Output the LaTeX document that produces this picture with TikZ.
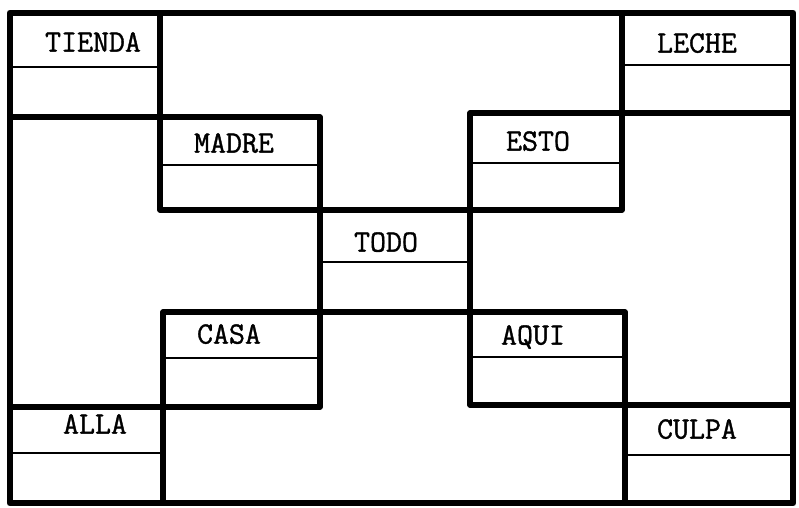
\documentclass[tikz,border=0pt]{standalone}
\usepackage{fontspec}
\newfontfamily\typewriter[FakeBold=1.2]{Latin Modern Mono}
\usepackage{tikz}
\usetikzlibrary{positioning}

\begin{document}
\begin{tikzpicture}[
    x=0.5pt,y=-0.5pt,
    frame/.style={line width=3.4pt,line join=round},
    wall/.style={line width=2.8pt,line join=round},
    divider/.style={line width=1.4pt},
    word/.style={font=\typewriter\fontsize{15.5}{16}\selectfont,inner sep=0pt,text height=1.3ex,text depth=0pt}
]
\useasboundingbox (0,0) rectangle (799,508);
% outer frame
\draw[frame] (10,13) rectangle (793,503);
% stepped walls
\draw[wall] (10,117) -- (320,117) -- (320,407) -- (10,407);
\draw[wall] (793,113) -- (470,113) -- (470,405) -- (793,405);
\draw[wall] (160,13) -- (160,210) -- (622,210) -- (622,13);
\draw[wall] (163,503) -- (163,312) -- (625,312) -- (625,503);
% label dividers
\draw[divider] (10,67) -- (160,67);
\draw[divider] (622,65) -- (793,65);
\draw[divider] (160,165) -- (320,165);
\draw[divider] (470,163) -- (622,163);
\draw[divider] (320,262) -- (470,262);
\draw[divider] (163,358) -- (320,358);
\draw[divider] (470,357) -- (625,357);
\draw[divider] (10,453) -- (163,453);
\draw[divider] (625,455) -- (793,455);
% labels
\node[word] (tienda) at (93,46) {TIENDA};
\node[word] (leche) at (697,47) {LECHE};
\node[word] (madre) at (234,147) {MADRE};
\node[word] (esto) at (538,145) {ESTO};
\node[word] (todo) at (386,246) {TODO};
\node[word] (casa) at (229,338) {CASA};
\node[word] (aqui) at (533,339) {AQUI};
\node[word] (alla) at (95,428) {ALLA};
\node[word] (culpa) at (697,433) {CULPA};
\end{tikzpicture}
\end{document}
